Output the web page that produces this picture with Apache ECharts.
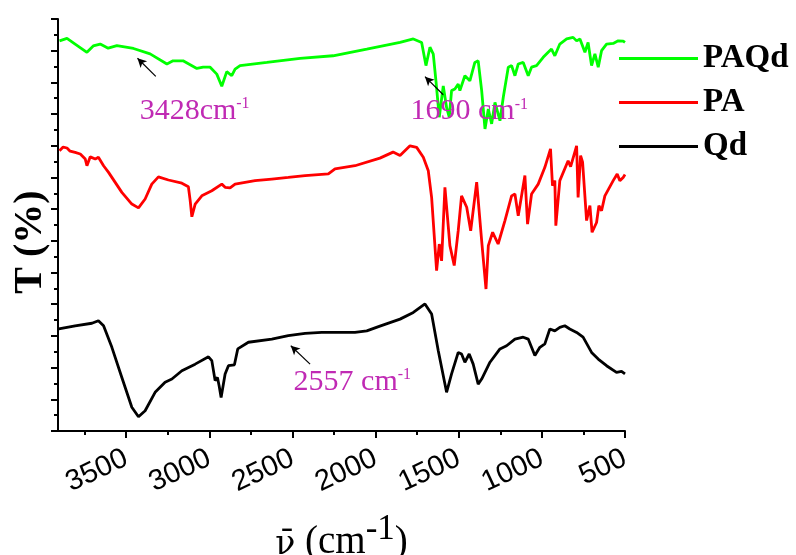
<!DOCTYPE html>
<html><head><meta charset="utf-8">
<script src="https://cdn.jsdelivr.net/npm/echarts@6/dist/echarts.min.js"></script>
<style>html,body{margin:0;padding:0;background:#fff}#c{width:796px;height:555px}</style>
</head><body><div id="c"></div>
<script>
// ---- data (wavenumber in cm^-1, transmittance in arbitrary offset units) ----
const seriesNames = ['PAQd', 'PA', 'Qd'];
const xTickValues = [500, 1000, 1500, 2000, 2500, 3000, 3500];

const paqdWn = [3901,3856,3807,3736,3698,3656,3608,3556,3456,3356,3255,3218,3158,3075,3037,2995,2955,2925,2895,2865,2845,2815,2654,2454,2256,2053,1853,1773,1723,1697,1673,1653,1637,1617,1593,1573,1557,1543,1523,1503,1493,1463,1433,1403,1383,1362,1342,1322,1302,1282,1252,1232,1202,1182,1162,1142,1112,1082,1062,1032,992,962,942,922,892,851,812,791,771,741,722,701,681,661,641,611,571,541,511,500];
const paqdT = [123.1,123.9,122.1,119.5,121.5,122.1,120.8,121.6,120.7,119.0,115.8,116.8,116.8,114.4,114.8,114.8,112.6,108.8,113.4,112.1,114.2,115.3,116.3,117.6,118.4,120.5,122.6,123.7,122.6,115.3,121.1,118.9,110.5,99.0,108.9,102.1,99.0,107.4,107.9,109.5,107.4,112.1,110.5,116.3,116.8,107.4,95.3,101.6,96.9,103.7,97.9,105.3,114.8,115.3,112.1,115.8,116.3,112.1,114.8,115.3,117.9,119.5,120.5,118.4,122.1,123.7,124.2,123.1,123.7,119.5,122.6,115.3,119.0,114.8,120.0,122.1,122.3,123.1,123.0,122.6];

const paWn = [3901,3879,3856,3837,3807,3776,3746,3736,3716,3686,3667,3636,3606,3526,3466,3426,3386,3346,3306,3246,3165,3126,3115,3105,3085,3045,2985,2925,2905,2875,2845,2725,2624,2525,2424,2284,2244,2124,1974,1895,1853,1793,1753,1713,1683,1663,1633,1617,1603,1583,1553,1527,1503,1483,1452,1428,1392,1362,1336,1322,1296,1263,1222,1182,1162,1142,1102,1086,1062,1022,982,948,936,922,916,892,842,827,791,782,767,755,731,711,698,671,657,641,621,571,547,531,511,500];
const paT = [88.4,89.6,89.3,88.3,87.9,87.4,85.8,83.7,86.5,85.8,86.4,83.7,81.6,75.3,71.6,70.4,73.2,77.9,80.2,79.2,78.2,77.1,72.7,67.6,71.6,74.2,75.8,77.9,76.9,76.7,77.9,79.0,79.5,80.0,80.6,81.1,82.7,83.7,86.1,88.0,86.9,90.0,89.5,86.4,82.1,73.7,50.6,59.0,53.7,76.9,58.5,52.2,63.2,74.2,70.6,63.2,78.5,60.0,44.8,58.5,62.7,59.0,66.4,74.2,74.8,67.9,80.6,65.3,74.8,77.9,83.2,89.0,77.4,79.0,64.8,79.0,85.3,83.4,90.0,73.7,86.9,84.8,66.4,71.1,62.7,65.8,71.1,69.5,74.2,79.0,81.1,79.0,80.0,80.9];

const qdWn = [3905,3807,3706,3667,3636,3586,3526,3466,3426,3386,3326,3266,3225,3165,3085,3005,2985,2965,2951,2941,2929,2905,2885,2849,2829,2765,2624,2525,2424,2324,2124,2053,1974,1853,1773,1703,1663,1623,1573,1543,1503,1483,1463,1437,1413,1383,1362,1312,1252,1212,1162,1112,1082,1062,1042,1012,982,952,922,892,862,832,791,752,701,661,611,551,521,500];
const qdT = [32.2,33.2,34.0,34.8,33.2,26.4,16.9,7.5,4.5,6.4,12.2,15.4,16.4,19.0,21.1,23.4,22.2,15.9,16.9,14.3,10.6,18.0,20.6,20.9,25.9,28.0,29.0,30.1,30.8,31.1,31.1,31.6,33.1,35.3,37.4,40.1,36.9,25.3,12.2,18.0,24.8,24.3,21.7,24.3,21.1,14.8,16.4,21.7,25.9,26.9,29.0,29.6,29.0,26.4,23.8,26.4,27.5,32.2,31.6,32.7,33.2,32.2,31.1,29.6,24.8,22.7,20.6,18.5,18.8,18.0];

const annotLabels = ['3428cm', '1690 cm', '2557 cm'];
const annotSup = '-1';

// ---- chart ----
const SERIF = 'Liberation Serif';
const MAG = '#c02ab4';
const zip = (a, b) => a.map((v, i) => [v, b[i]]);

const annotRich = {
  a: { fontFamily: SERIF, fontSize: 30, lineHeight: 30, color: MAG },
  b: { fontFamily: SERIF, fontSize: 16, lineHeight: 16, color: MAG, verticalAlign: 'top' }
};
function annot(i, coord) {
  return {
    coord: coord, symbol: 'rect', symbolSize: 1, itemStyle: { color: 'rgba(0,0,0,0)' },
    label: { show: true, position: 'right', distance: 0, formatter: '{a|' + annotLabels[i] + '}{b|' + annotSup + '}', rich: annotRich }
  };
}

const chart = echarts.init(document.getElementById('c'), null, { renderer: 'canvas' });
const axisLineStyle = { color: '#000', width: 2 };
chart.setOption({
  backgroundColor: '#fff',
  animation: false,
  grid: { left: 58, right: 171, top: 19, bottom: 124, containLabel: false, outerBoundsMode: 'none' },
  xAxis: {
    type: 'value', min: 500, max: 3910, interval: 500, inverse: true,
    name: '{n|ν̄}{a| (cm}{b|-1}{a|)}', nameLocation: 'middle', nameGap: 67,
    nameTextStyle: { rich: {
      n: { fontFamily: 'DejaVu Serif', fontSize: 33, lineHeight: 37, color: '#000', verticalAlign: 'bottom' },
      a: { fontFamily: SERIF, fontSize: 39, lineHeight: 39, color: '#000', verticalAlign: 'bottom' },
      b: { fontFamily: SERIF, fontSize: 35, lineHeight: 64, color: '#000' }
    } },
    axisLine: { show: true, onZero: false, lineStyle: axisLineStyle },
    axisTick: { show: true, length: 7, lineStyle: axisLineStyle, customValues: xTickValues },
    minorTick: { show: true, splitNumber: 2, length: 4, lineStyle: axisLineStyle },
    axisLabel: { customValues: xTickValues, rotate: 25, fontFamily: 'Liberation Sans', fontSize: 29, color: '#000', margin: 26,
      formatter: v => String(v) },
    splitLine: { show: false }, minorSplitLine: { show: false }
  },
  yAxis: {
    type: 'value', min: 0, max: 130, interval: 10,
    name: 'T (%)', nameLocation: 'middle', nameRotate: 90, nameGap: 7,
    nameTextStyle: { fontFamily: SERIF, fontWeight: 'bold', fontSize: 40, color: '#000', padding: [0, 34, 0, 0] },
    axisLine: { show: true, onZero: false, lineStyle: axisLineStyle },
    axisTick: { show: true, length: 7, lineStyle: axisLineStyle },
    minorTick: { show: true, splitNumber: 2, length: 4, lineStyle: axisLineStyle },
    axisLabel: { show: false },
    splitLine: { show: false }
  },
  legend: {
    orient: 'vertical', left: 614, top: 37, itemWidth: 79, itemHeight: 3, itemGap: 11, icon: 'rect',
    data: seriesNames,
    textStyle: { fontFamily: SERIF, fontWeight: 'bold', fontSize: 33, lineHeight: 33, color: '#000' }
  },
  series: [
    { name: seriesNames[0], type: 'line', data: zip(paqdWn, paqdT), symbol: 'none', color: '#00ff00', lineStyle: { width: 2.8 },
      markPoint: { silent: true, data: [annot(0, [3422, 101.0]), annot(1, [1793, 100.8])] },
      markLine: { silent: true, symbol: ['none', 'arrow'], symbolSize: [7, 9], label: { show: false },
        lineStyle: { color: '#000', width: 1.2, type: 'solid' },
        data: [
          [{ coord: [3322, 111.9] }, { coord: [3432, 117.6] }],
          [{ coord: [1593, 106.1] }, { coord: [1703, 111.8] }]
        ] } },
    { name: seriesNames[1], type: 'line', data: zip(paWn, paT), symbol: 'none', color: '#ff0000', lineStyle: { width: 2.8 } },
    { name: seriesNames[2], type: 'line', data: zip(qdWn, qdT), symbol: 'none', color: '#000000', lineStyle: { width: 2.8 },
      markPoint: { silent: true, data: [annot(2, [2496, 15.5])] },
      markLine: { silent: true, symbol: ['none', 'arrow'], symbolSize: [7, 9], label: { show: false },
        lineStyle: { color: '#000', width: 1.2, type: 'solid' },
        data: [ [{ coord: [2394, 21.1] }, { coord: [2510, 26.9] }] ] } }
  ]
});
</script>
</body></html>
